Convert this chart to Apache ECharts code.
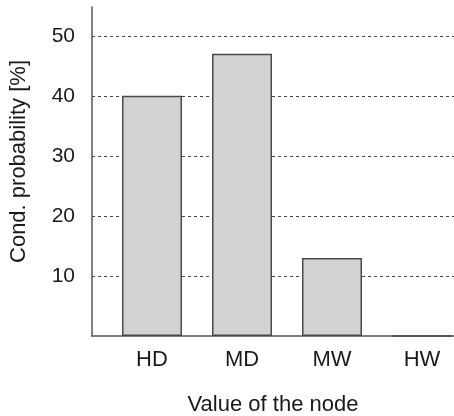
<!DOCTYPE html>
<html>
<head>
<meta charset="utf-8">
<script src="https://cdn.jsdelivr.net/npm/echarts@6/dist/echarts.min.js"></script>
<style>
  html, body { margin: 0; padding: 0; background: #fff; }
  #chart { width: 454px; height: 416px; }
</style>
</head>
<body>
<div id="chart"></div>
<script>
// data
var categories = ['HD', 'MD', 'MW', 'HW'];
var probability = [40, 47, 13, 0];

var font = 'Liberation Sans, Arial, Helvetica, sans-serif';
var ink = '#1a1a1a';
var lineColor = '#555';

var myChart = echarts.init(document.getElementById('chart'));
var option = {
  animation: false,
  grid: {
    left: 92,
    right: 0,
    top: 7,
    bottom: 80,
    outerBoundsMode: 'none',
  },
  xAxis: {
    type: 'value',
    // bars sit at 0..3, the axis starts a bit left of the first one
    min: -0.6667,
    max: 3.3556,
    name: 'Value of the node',
    nameLocation: 'middle',
    nameGap: 58,
    nameTextStyle: { color: ink, fontSize: 22, fontFamily: font },
    axisLine: { show: true, lineStyle: { color: lineColor, width: 1.5 } },
    axisTick: { show: false },
    splitLine: { show: false },
    axisLabel: {
      customValues: categories.map(function (c, i) { return i; }),
      formatter: function (v) { return categories[Math.round(v)]; },
      color: ink,
      fontSize: 22,
      fontFamily: font,
      margin: 13,
    },
  },
  yAxis: {
    type: 'value',
    min: 0,
    max: 54.8,
    interval: 10,
    name: 'Cond. probability [%]',
    nameLocation: 'middle',
    nameGap: 62,
    nameTextStyle: {
      color: ink,
      fontSize: 22,
      fontFamily: font,
      padding: [0, 0, 0, 20], // nudges the rotated title up a little
    },
    axisLine: { show: true, onZero: false, lineStyle: { color: lineColor, width: 1.5 } },
    axisTick: { show: false },
    axisLabel: {
      showMinLabel: false,
      showMaxLabel: false,
      color: ink,
      fontSize: 21,
      fontFamily: font,
      margin: 17,
    },
    splitLine: {
      show: true,
      showMinLine: false,
      showMaxLine: false,
      lineStyle: { color: '#444', width: 1, type: [3, 3] },
    },
  },
  series: [
    {
      type: 'bar',
      barWidth: 60,
      data: probability.map(function (v, i) { return [i, v]; }),
      itemStyle: {
        color: '#d1d2d4',
        borderColor: '#4a4a4a',
        borderWidth: 1.5,
      },
      z: 3,
    },
  ],
};
myChart.setOption(option, true);
</script>
</body>
</html>
